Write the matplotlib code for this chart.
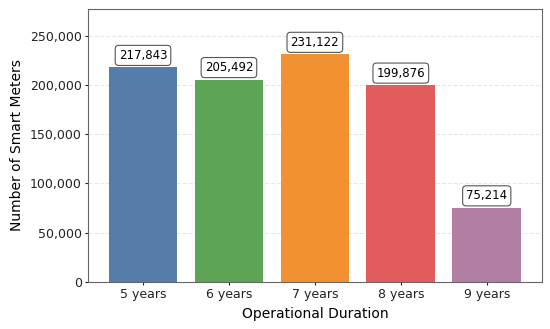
import matplotlib
matplotlib.use("Agg")
import matplotlib.pyplot as plt
from matplotlib.ticker import FuncFormatter

durations = ["5 years", "6 years", "7 years", "8 years", "9 years"]
meters = [217843, 205492, 231122, 199876, 75214]
colors = ["#4e79a7", "#59a14f", "#f28e2b", "#e15759", "#b07aa1"]

fig, ax = plt.subplots(figsize=(5.5, 3.29), dpi=100)
fig.subplots_adjust(left=0.16, right=0.985, top=0.973, bottom=0.143)

bars = ax.bar(durations, meters, color=colors, width=0.8, alpha=0.97, zorder=2)

for b, v in zip(bars, meters):
    ax.annotate(f"{v:,}", (b.get_x() + b.get_width() / 2, v),
                xytext=(0, 4), textcoords="offset points",
                ha="center", va="bottom", fontsize=8.5,
                bbox=dict(boxstyle="round,pad=0.3", fc="white", ec="#555555", lw=0.8))

ax.set_ylim(0, max(meters) * 1.2)
ax.yaxis.set_major_formatter(FuncFormatter(lambda x, _: f"{int(x):,}"))
ax.grid(axis="y", linestyle="--", alpha=0.3, zorder=0)
ax.set_xlabel("Operational Duration", fontsize=10)
ax.set_ylabel("Number of Smart Meters", fontsize=10)
ax.tick_params(labelsize=9, colors="#222222", length=2.5, pad=2)
for s in ax.spines.values():
    s.set_color("#666666")

plt.savefig("out.png", dpi=100)
